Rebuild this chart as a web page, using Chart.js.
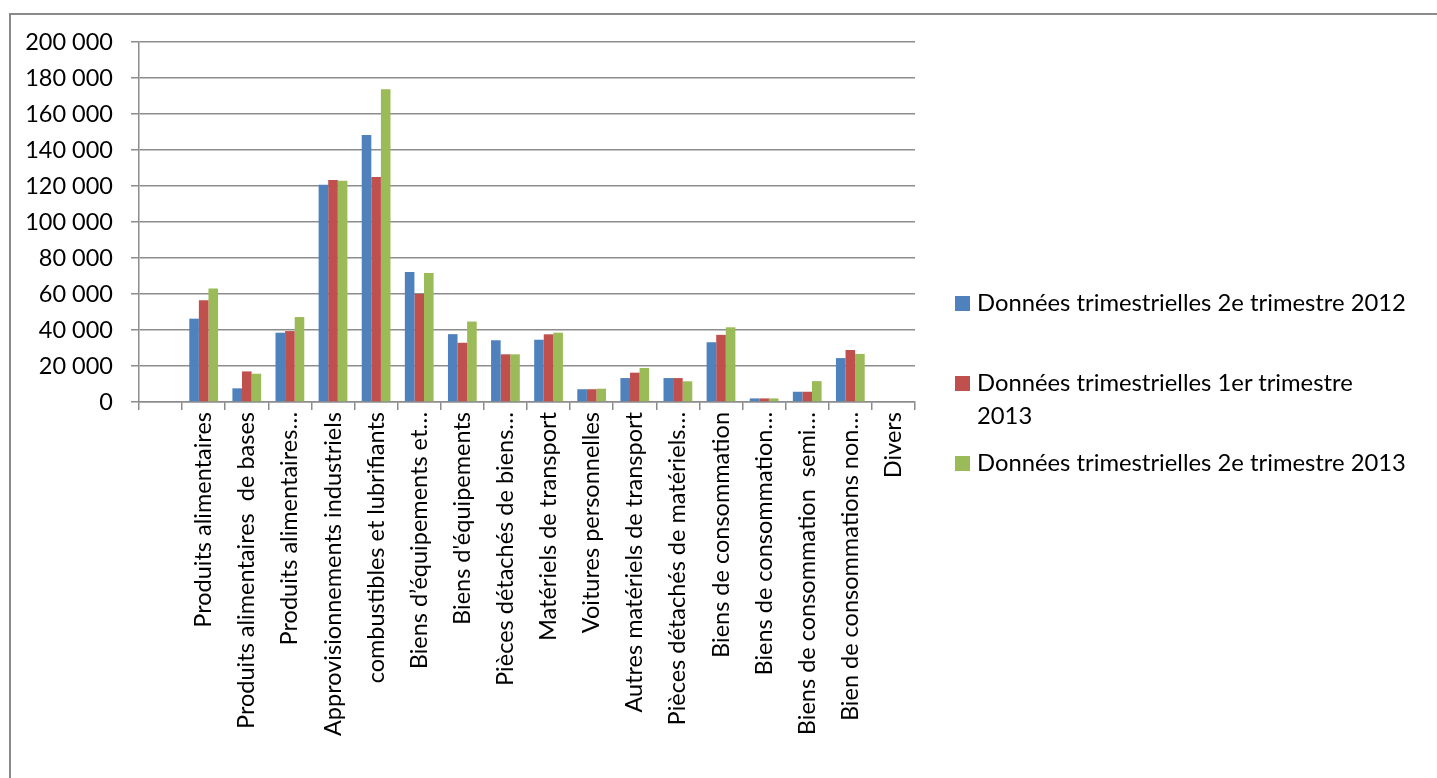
<!DOCTYPE html>
<html lang="fr">
<head>
<meta charset="utf-8">
<title>Importations par catégorie</title>
<script src="https://cdn.jsdelivr.net/npm/chart.js@4.4.0/dist/chart.umd.min.js"></script>
<style>
    html, body { margin: 0; padding: 0; background: #fff; overflow: hidden; }
    body { width: 1437px; height: 778px; position: relative; font-family: Lato, "Open Sans", sans-serif; }
    #frame { position: absolute; left: 9px; top: 13px; width: 1440px; height: 780px; border: 2px solid #8a8a8a; box-sizing: border-box; }
    #chart { position: absolute; left: 0; top: 0; }
    #legend { position: absolute; left: 955px; top: 0; width: 475px; }
    .item { position: absolute; left: 0; display: flex; align-items: flex-start; font-size: 23.8px; line-height: 33px; color: #000; }
    .swatch { width: 15px; height: 15px; margin-top: 10px; margin-right: 7px; flex: none; }
    .text { max-width: 434px; }
</style>
</head>
<body>
<div id="frame"></div>
<canvas id="chart" width="1437" height="778"></canvas>
<div id="legend"></div>
<script>
// --- Data (values in units) ---
const categories = [
    '',
    'Produits alimentaires',
    'Produits alimentaires  de bases',
    'Produits alimentaires…',
    'Approvisionnements industriels',
    'combustibles et lubrifiants',
    'Biens d\u2019équipements et…',
    'Biens d\'équipements',
    'Pièces détachés de biens…',
    'Matériels de transport',
    'Voitures personnelles',
    'Autres matériels de transport',
    'Pièces détachés de matériels…',
    'Biens de consommation',
    'Biens de consommation…',
    'Biens de consommation  semi…',
    'Bien de consommations non…',
    'Divers'
];

const seriesNames = [
    'Données trimestrielles 2e trimestre 2012',
    'Données trimestrielles 1er trimestre 2013',
    'Données trimestrielles 2e trimestre 2013'
];

const q2_2012 = [null, 46300, 7600, 38500, 120700, 148300, 72200, 37700, 34300, 34600, 7100, 13300, 13300, 33200, 2000, 5700, 24400, null];
const q1_2013 = [null, 56500, 17000, 39400, 123300, 125000, 60000, 32900, 26500, 37600, 7100, 16300, 13300, 37300, 2000, 5700, 28900, null];
const q2_2013 = [null, 63000, 15700, 47200, 122900, 173700, 71700, 44700, 26500, 38500, 7400, 18900, 11500, 41500, 2000, 11600, 26700, null];

const yTicks = [0, 20000, 40000, 60000, 80000, 100000, 120000, 140000, 160000, 180000, 200000];

const colors = ['#4F81BD', '#C0504D', '#9BBB59'];

// --- Chart ---
const gridColor = '#8c8c8c';
const tickFont = { family: 'Lato, "Open Sans", sans-serif', size: 23.5 };

function formatThousands(v) {
    return String(v).replace(/\B(?=(\d{3})+(?!\d))/g, ' ');
}

const seriesValues = [q2_2012, q1_2013, q2_2013];

const ctx = document.getElementById('chart').getContext('2d');
const chart = new Chart(ctx, {
    type: 'bar',
    data: {
        labels: categories,
        datasets: seriesValues.map((vals, i) => ({
            label: seriesNames[i],
            data: vals,
            backgroundColor: colors[i],
            borderWidth: 0,
            categoryPercentage: 0.667,
            barPercentage: 1.0
        }))
    },
    options: {
        responsive: false,
        animation: false,
        devicePixelRatio: 1,
        layout: { padding: { left: 0, right: 522, top: 42, bottom: 0 } },
        plugins: {
            legend: { display: false },
            tooltip: { enabled: false }
        },
        scales: {
            x: {
                grid: {
                    display: true,
                    offset: true,
                    drawOnChartArea: false,
                    drawTicks: true,
                    tickLength: 8,
                    color: gridColor,
                    lineWidth: 1.5
                },
                border: { display: true, color: gridColor, width: 1.5 },
                ticks: {
                    color: '#000',
                    font: tickFont,
                    minRotation: 90,
                    maxRotation: 90,
                    autoSkip: false,
                    padding: 2
                },
                afterFit(scale) { scale.height = 778 - 402; }
            },
            y: {
                min: 0,
                max: 200000,
                afterBuildTicks(scale) { scale.ticks = yTicks.map(v => ({ value: v })); },
                grid: {
                    color: gridColor,
                    lineWidth: 1.5,
                    tickLength: 8
                },
                border: { display: true, color: gridColor, width: 1.5 },
                ticks: {
                    color: '#000',
                    font: tickFont,
                    padding: 18,
                    callback: v => formatThousands(v)
                },
                afterFit(scale) { scale.width = 139; }
            }
        }
    }
});

// --- Legend (HTML, right side) ---
const legendTops = [286, 366, 446];
const legendEl = document.getElementById('legend');
seriesNames.forEach((name, i) => {
    const item = document.createElement('div');
    item.className = 'item';
    item.style.top = legendTops[i] + 'px';
    const sw = document.createElement('span');
    sw.className = 'swatch';
    sw.style.background = colors[i];
    const tx = document.createElement('span');
    tx.className = 'text';
    tx.textContent = name;
    item.appendChild(sw);
    item.appendChild(tx);
    legendEl.appendChild(item);
});
</script>
</body>
</html>
